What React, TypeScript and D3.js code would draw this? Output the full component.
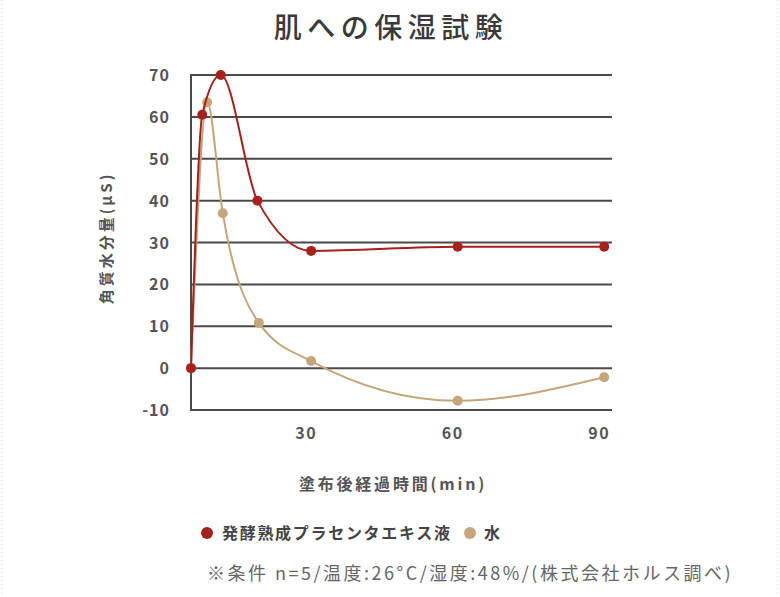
import React from "react";
import * as d3 from "d3";

const W = 780;
const H = 597;

const title = "肌への保湿試験";
const yTicks = [-10, 0, 10, 20, 30, 40, 50, 60, 70];
const xTicks = [30, 60, 90];
const xTitle = "塗布後経過時間(min)";
const yTitle = "角質水分量(μS)";

// elapsed time (min) and skin moisture (μS)
const placentaTimes = [5.4, 7.7, 11.5, 19, 30, 60, 90];
const placentaValues = [0, 60.5, 70, 40, 28, 29, 29];
const waterTimes = [5.4, 8.7, 11.9, 19.3, 30, 60, 90];
const waterValues = [0, 63.5, 37, 10.8, 1.7, -7.8, -2.2];

const seriesNames = ["発酵熟成プラセンタエキス液", "水"];
const seriesColors = ["#a8201c", "#c4a67a"];
const footnote = "※条件 n=5/温度:26°C/湿度:48%/(株式会社ホルス調べ)";

const FONT = "'Noto Sans CJK JP', 'Noto Sans', sans-serif";

export default function App() {
  const left = 191, right = 612, top = 75, bottom = 410;
  const x = d3.scaleLinear().domain([5.4, 91.6]).range([left, right]);
  const y = d3.scaleLinear().domain([-10, 70]).range([bottom, top]);

  const line = d3
    .line<[number, number]>()
    .x((d) => x(d[0]))
    .y((d) => y(d[1]))
    .curve(d3.curveMonotoneX);

  const series = [
    { pts: placentaTimes.map((t, i) => [t, placentaValues[i]] as [number, number]), color: seriesColors[0] },
    { pts: waterTimes.map((t, i) => [t, waterValues[i]] as [number, number]), color: seriesColors[1] },
  ];

  return (
    <svg
      width={W}
      height={H}
      style={{ position: "absolute", left: 0, top: 0, background: "#fff" }}
      fontFamily={FONT}
    >
      <rect x={0} y={0} width={W} height={H} fill="#fff" />
      <line x1={2} x2={2} y1={0} y2={H} stroke="#ddd" strokeDasharray="1 3" />
      <line x1={W - 3} x2={W - 3} y1={0} y2={H} stroke="#ddd" strokeDasharray="1 3" />

      <text x={391} y={38} textAnchor="middle" fontSize={28} fill="#3a3a3a" letterSpacing={5.5} fontWeight={500}>
        {title}
      </text>

      {yTicks.map((v) => (
        <g key={v}>
          <line x1={left} x2={right} y1={y(v)} y2={y(v)} stroke="#4a4a4a" strokeWidth={2} />
          <text x={170} y={y(v) + 6} textAnchor="end" fontSize={16} fontWeight={700} fill="#555" letterSpacing={1}>
            {v}
          </text>
        </g>
      ))}
      <line x1={left} x2={left} y1={top - 1} y2={bottom + 1} stroke="#4a4a4a" strokeWidth={2} />

      {xTicks.map((v) => (
        <text key={v} x={x(v) - 5} y={439} textAnchor="middle" fontSize={16} fontWeight={700} fill="#555" letterSpacing={1.5}>
          {v}
        </text>
      ))}

      <text x={393} y={490} textAnchor="middle" fontSize={16} fontWeight={700} fill="#555" letterSpacing={2.8}>
        {xTitle}
      </text>
      <text
        transform={`translate(112,238) rotate(-90)`}
        textAnchor="middle"
        fontSize={15}
        fontWeight={700}
        fill="#555"
        letterSpacing={3}
      >
        {yTitle}
      </text>

      {[1, 0].map((i) => (
        <g key={i}>
          <path d={line(series[i].pts) || ""} fill="none" stroke={series[i].color} strokeWidth={2} />
          {series[i].pts.map((p, j) => (
            <circle key={j} cx={x(p[0])} cy={y(p[1])} r={5} fill={series[i].color} />
          ))}
        </g>
      ))}

      <circle cx={207} cy={533} r={6} fill={seriesColors[0]} />
      <text x={222} y={539} fontSize={16} fontWeight={700} fill="#444" letterSpacing={1.7}>
        {seriesNames[0]}
      </text>
      <circle cx={470} cy={533} r={6} fill={seriesColors[1]} />
      <text x={484} y={539} fontSize={16} fontWeight={700} fill="#444">
        {seriesNames[1]}
      </text>

      <text x={207} y={580} fontSize={18} fill="#666" letterSpacing={2.5}>
        {footnote}
      </text>
    </svg>
  );
}
